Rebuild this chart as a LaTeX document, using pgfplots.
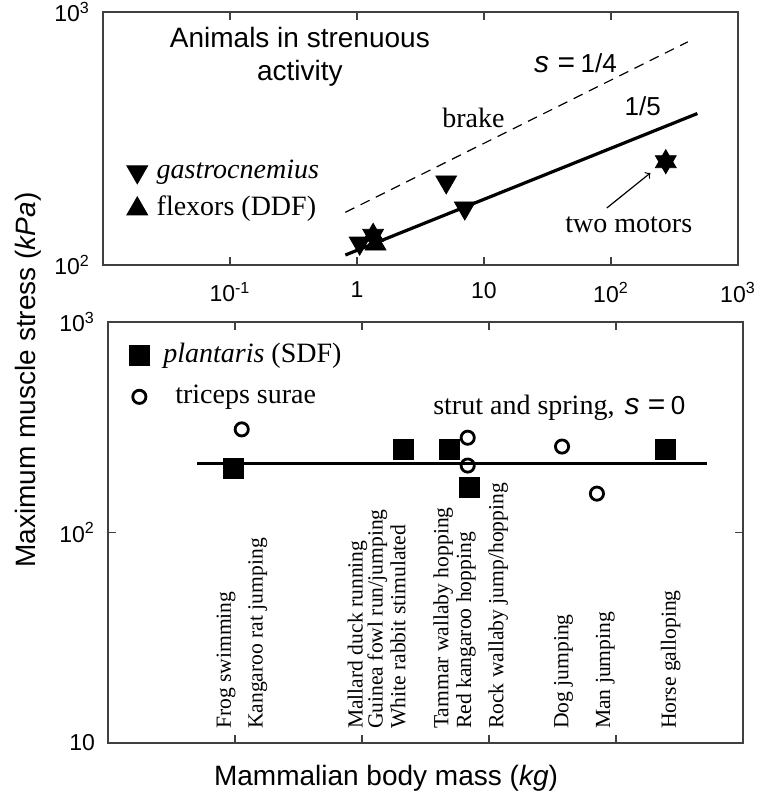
\documentclass[border=0pt]{standalone}
\usepackage{fontspec}
\setmainfont{Liberation Sans}
\newfontfamily\tnr{Liberation Serif}
\usepackage{pgfplots}
\pgfplotsset{compat=1.18}

\pgfplotsset{
  every axis/.append style={
    scale only axis,
    xmin=0.01, xmax=1000,
    axis line style={black!75, line width=0.6pt},
    tick style={black!75, line width=0.6pt},
    tick align=inside, major tick length=4pt,
    xminorticks=false, yminorticks=false,
    tick label style={font=\fontsize{11.5}{13}\selectfont},
    clip=false,
    legend cell align=left,
    legend style={draw=none, fill=none, inner sep=0pt,
      font=\tnr\fontsize{14}{16}\selectfont,
      nodes={inner sep=1pt, text height=9.5pt, text depth=3pt}},
  },
}

\begin{document}
\begin{tikzpicture}
\useasboundingbox (-54pt,-25.5pt) rectangle (327.5pt,371.5pt);

% upper panel
\begin{loglogaxis}[at={(-2.5pt,239pt)}, anchor=south west,
  width=317.5pt, height=126.5pt,
  ymin=100, ymax=1000,
  xtick={0.1,1,10,100,1000},
  xticklabels={10\textsuperscript{-1},1,10,10\textsuperscript{2},10\textsuperscript{3}},
  ytick={100,1000},
  yticklabels={10\textsuperscript{2},10\textsuperscript{3}},
  xticklabel style={yshift=-5pt}, yticklabel style={xshift=-3pt},
  legend style={at={(axis description cs:0.037,0.427)}, anchor=north west,
    row sep=4pt, column sep=3.5pt},
]
\addplot[only marks, black, mark=triangle*, mark size=6pt, mark options={rotate=180}]
  coordinates {(1.05,122) (1.34,131) (5.04,213) (7.06,168) (270,256)};
\addlegendentry{\textit{gastrocnemius}}
\addplot[only marks, black, mark=triangle*, mark size=6pt]
  coordinates {(1.34,131) (1.40,121) (270,256)};
\addlegendentry{flexors (DDF)}
\addplot[black, line width=1.6pt, forget plot] coordinates {(0.81,109.5) (479,397)};
\addplot[black, line width=0.6pt, dash pattern=on 5pt off 3.5pt, forget plot]
  coordinates {(0.81,161.5) (402,762)};

\node[align=center, font=\fontsize{14}{16.5}\selectfont] at (axis cs:0.355,668)
  {Animals in strenuous\\activity};
\node at (axis cs:52.5,627) {{\fontsize{15}{17}\selectfont\textit{s} =} {\fontsize{13}{15}\selectfont 1/4}};
\node[font=\tnr\fontsize{14}{16}\selectfont] at (axis cs:8.26,380) {brake};
\node[font=\fontsize{13}{15}\selectfont] at (axis cs:178,425) {1/5};
\node[font=\tnr\fontsize{14}{16}\selectfont] at (axis cs:138,144) {two motors};
\draw[->, line width=0.6pt] (axis cs:92.7,168) -- (axis cs:204,231);
\end{loglogaxis}

% lower panel
\begin{loglogaxis}[at={(0pt,0pt)}, anchor=south west,
  width=317.5pt, height=210.5pt,
  ymin=10, ymax=1000,
  xtick={0.1,1,10,100}, xticklabels={,,,},
  ytick={10,100,1000},
  yticklabels={10,10\textsuperscript{2},10\textsuperscript{3}},
  yticklabel style={xshift=-3pt},
  legend style={at={(axis description cs:0.033,0.955)}, anchor=north west,
    row sep=6pt, column sep=6pt},
]
\addplot[only marks, black, mark=square*, mark size=5pt]
  coordinates {(0.0975,202) (2.1,248) (4.9,248) (7.0,164) (246,248)};
\addlegendentry{\textit{plantaris} (SDF)}
\addplot[only marks, black, mark=o, mark size=3.3pt, line width=1.4pt]
  coordinates {(0.113,309) (6.8,282) (6.8,208) (37.6,256) (70.8,153)};
\addlegendentry{\hspace{6pt}triceps surae}
\addplot[black, line width=1.5pt, forget plot] coordinates {(0.05,213) (516,213)};

\node at (axis cs:35.8,390) {{\tnr\fontsize{14}{16}\selectfont strut and spring,}\hspace{5pt}{\fontsize{15}{17}\selectfont\textit{s} =} {\fontsize{13}{15}\selectfont 0}};

\node[rotate=90, anchor=west, font=\tnr\fontsize{10.8}{12}\selectfont] at (axis cs:0.0851,10.8) {Frog swimming};
\node[rotate=90, anchor=west, font=\tnr\fontsize{10.8}{12}\selectfont] at (axis cs:0.151,10.8) {Kangaroo rat jumping};
\node[rotate=90, anchor=west, font=\tnr\fontsize{10.8}{12}\selectfont] at (axis cs:0.920,10.8) {Mallard duck running};
\node[rotate=90, anchor=west, font=\tnr\fontsize{10.8}{12}\selectfont] at (axis cs:1.32,10.8) {Guinea fowl run/jumping};
\node[rotate=90, anchor=west, font=\tnr\fontsize{10.8}{12}\selectfont] at (axis cs:1.92,10.8) {White rabbit stimulated};
\node[rotate=90, anchor=west, font=\tnr\fontsize{10.8}{12}\selectfont] at (axis cs:4.37,10.8) {Tammar wallaby hopping};
\node[rotate=90, anchor=west, font=\tnr\fontsize{10.8}{12}\selectfont] at (axis cs:6.58,10.8) {Red kangaroo hopping};
\node[rotate=90, anchor=west, font=\tnr\fontsize{10.8}{12}\selectfont] at (axis cs:11.8,10.8) {Rock wallaby jump/hopping};
\node[rotate=90, anchor=west, font=\tnr\fontsize{10.8}{12}\selectfont] at (axis cs:38.6,10.8) {Dog jumping};
\node[rotate=90, anchor=west, font=\tnr\fontsize{10.8}{12}\selectfont] at (axis cs:82.4,10.8) {Man jumping};
\node[rotate=90, anchor=west, font=\tnr\fontsize{10.8}{12}\selectfont] at (axis cs:270,10.8) {Horse galloping};
\end{loglogaxis}

\node[rotate=90, font=\fontsize{14}{16}\selectfont] at (-40pt,181.5pt)
  {Maximum muscle stress (\textit{kPa})};
\node[font=\fontsize{14}{16}\selectfont] at (139pt,-17.5pt)
  {Mammalian body mass (\textit{kg})};
\end{tikzpicture}
\end{document}
